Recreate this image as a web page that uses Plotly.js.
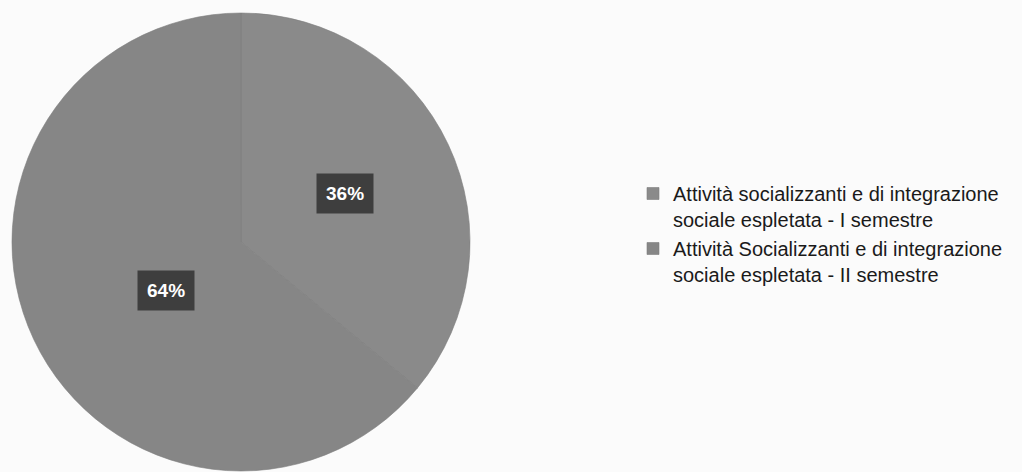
<!DOCTYPE html>
<html><head><meta charset="utf-8">
<script src="https://cdn.plot.ly/plotly-3.0.1.min.js"></script>
<style>html,body{margin:0;padding:0;background:#fbfbfb;}</style>
</head><body>
<div id="chart" style="width:1022px;height:472px;"></div>
<script>
const labels = [
  "Attività socializzanti e di integrazione<br>sociale espletata - I semestre",
  "Attività Socializzanti e di integrazione<br>sociale espletata - II semestre"
];
const values = [36, 64];
const sliceColors = ["#8a8a8a", "#868686"];

const W = 1022, H = 472;
const domX = [12 / W, 470 / W];
const domY = [1 / H, 459 / H];

// label positions derived from slice geometry (clockwise from 12 o'clock)
const total = values.reduce((a, b) => a + b, 0);
const cxPx = (domX[0] + domX[1]) / 2 * W;
const cyPx = H - (domY[0] + domY[1]) / 2 * H;
const rPx = Math.min((domX[1] - domX[0]) * W, (domY[1] - domY[0]) * H) / 2;
let acc = 0;
const annotations = values.map(v => {
  const mid = (acc + v / 2) / total * 2 * Math.PI;
  acc += v;
  const px = cxPx + 0.5 * rPx * Math.sin(mid);
  const py = cyPx - 0.5 * rPx * Math.cos(mid);
  return {
    x: px / W, y: 1 - py / H, xref: "paper", yref: "paper",
    text: "<b>" + Math.round(v / total * 100) + "%</b>",
    showarrow: false,
    font: {family: "Liberation Sans, Arial, sans-serif", size: 19, color: "#ffffff"},
    bgcolor: "#3e3e3e", borderpad: 9
  };
});

const data = [{
  type: "pie",
  labels: labels,
  values: values,
  sort: false,
  direction: "clockwise",
  rotation: 0,
  textinfo: "none",
  hoverinfo: "none",
  marker: {colors: sliceColors, line: {color: "#7e7e7e", width: 0.6}},
  domain: {x: domX, y: domY}
}];

const layout = {
  width: W, height: H,
  margin: {l: 0, r: 0, t: 0, b: 0},
  paper_bgcolor: "#fbfbfb",
  showlegend: true,
  legend: {
    x: 633 / W, y: 1 - 174 / H, xanchor: "left", yanchor: "top",
    valign: "top",
    font: {family: "Liberation Sans, Arial, sans-serif", size: 20, color: "#1a1a1a"},
    bgcolor: "rgba(0,0,0,0)",
    itemclick: false
  },
  annotations: annotations
};

Plotly.newPlot("chart", data, layout, {displayModeBar: false, staticPlot: true});
</script>
</body></html>
